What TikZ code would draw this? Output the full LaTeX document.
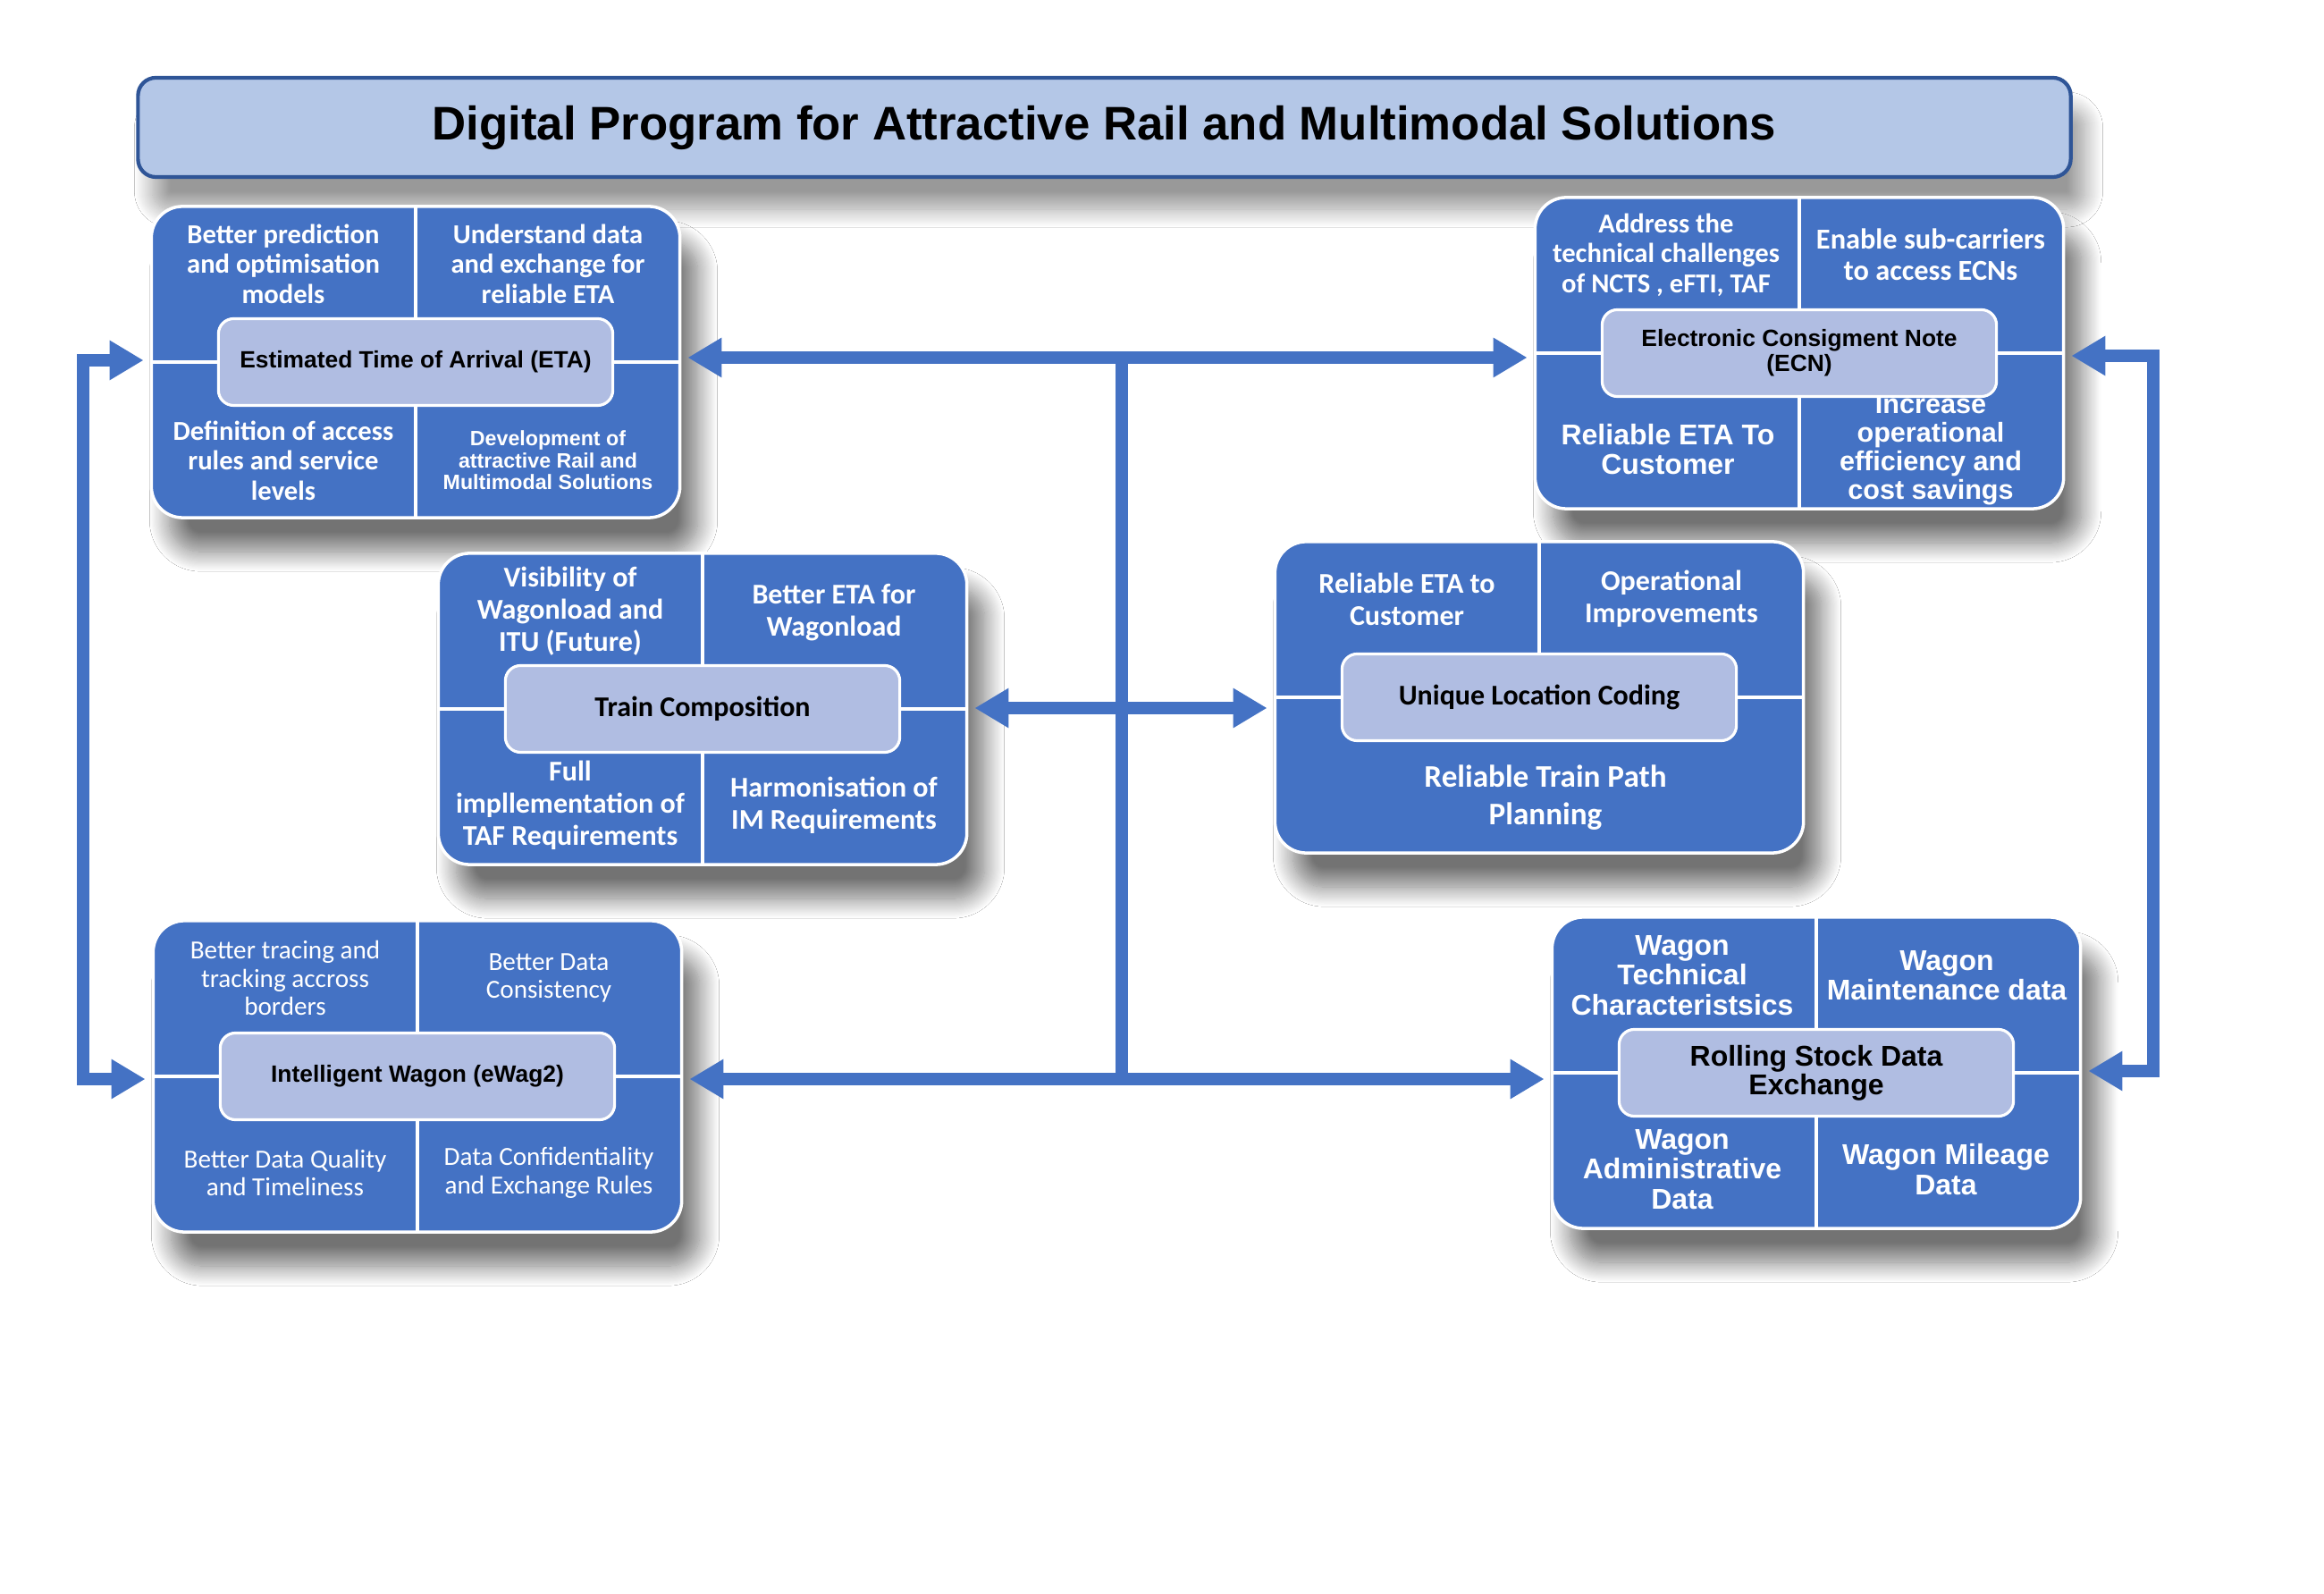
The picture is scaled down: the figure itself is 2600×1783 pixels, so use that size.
\documentclass[tikz,border=0pt]{standalone}
\usepackage{fontspec}
\newfontfamily\calibrifont{Carlito}
\newfontfamily\arialfont{Liberation Sans}
\usetikzlibrary{arrows.meta,shadows.blur}
\definecolor{boxblue}{RGB}{68,114,196}
\definecolor{coreblue}{RGB}{176,189,226}
\definecolor{titleblue}{RGB}{180,199,231}
\definecolor{titleedge}{RGB}{47,85,151}
\definecolor{linkblue}{RGB}{68,114,196}
\newcommand{\calbold}[2]{\calibrifont\bfseries\fontsize{#1}{#2}\selectfont}
\newcommand{\calreg}[2]{\calibrifont\fontsize{#1}{#2}\selectfont}
\newcommand{\arbold}[2]{\arialfont\bfseries\fontsize{#1}{#2}\selectfont}
\tikzset{
  titlebar/.style={draw=titleedge, line width=1.2pt, fill=titleblue, rounded corners=0.2cm,
    minimum width=21.61cm, minimum height=1.11cm, inner sep=0pt,
    font=\arbold{15}{18},
    blur shadow={shadow xshift=0.16cm, shadow yshift=-0.36cm, shadow blur radius=0.2cm, shadow blur steps=20, shadow opacity=40}},
  block/.style={draw=white, line width=1pt, fill=boxblue, rounded corners=0.35cm,
    minimum width=5.91cm, minimum height=3.48cm, inner sep=0pt,
    blur shadow={shadow xshift=0.2cm, shadow yshift=-0.38cm, shadow blur radius=0.22cm, shadow blur steps=20, shadow opacity=55}},
  core/.style={draw=white, line width=0.9pt, fill=coreblue, rounded corners=0.17cm,
    minimum width=4.41cm, minimum height=0.97cm, inner sep=0pt, align=center, text=black},
  divider/.style={draw=white, line width=1pt},
  cell/.style={text=white, align=center, inner sep=0pt},
  link/.style={draw=linkblue, line width=0.14cm, line join=miter},
  twoway/.style={{Triangle[length=0.38cm,width=0.42cm]}-{Triangle[length=0.38cm,width=0.42cm]},
    shorten <=0.07cm, shorten >=0.07cm}
}
\begin{document}
\begin{tikzpicture}[x=0.01cm,y=-0.01cm]
	\fill[white] (0,0) rectangle (2600,1783);
	\useasboundingbox (0,0) rectangle (2600,1783);
	\node[titlebar] (title) at (1235.5,142.5) {Digital Program for Attractive Rail and Multimodal Solutions};
	% ETA
	\node[block] (eta) at (465,405) {};
	\draw[divider] (eta.north) -- (eta.south);
	\draw[divider] (eta.west) -- (eta.east);
	\node[cell, font=\calbold{8.7}{9.5}] (eta-tl) at (317,295) {Better prediction\\and optimisation\\models};
	\node[cell, font=\calbold{8.7}{9.5}] (eta-tr) at (613,295) {Understand data\\and exchange for\\reliable ETA};
	\node[cell, font=\calbold{8.7}{9.5}] (eta-bl) at (317,515) {Definition of access\\rules and service\\levels};
	\node[cell, font=\arbold{6.6}{7}] (eta-br) at (613,515) {Development of\\attractive Rail and\\Multimodal Solutions};
	\node[core, font=\arbold{7.5}{7.9}] (eta-core) at (eta) {Estimated Time of Arrival (ETA)};
	% ECN
	\node[block] (ecn) at (2013,395) {};
	\draw[divider] (ecn.north) -- (ecn.south);
	\draw[divider] (ecn.west) -- (ecn.east);
	\node[cell, font=\calbold{8.7}{9.5}] (ecn-tl) at (1864,285) {Address the\\technical challenges\\of NCTS , eFTI, TAF};
	\node[cell, font=\calbold{9.2}{10.1}] (ecn-tr) at (2160,285) {Enable sub-carriers\\to access ECNs};
	\node[cell, font=\arbold{9.1}{9.4}] (ecn-bl) at (1866,503) {Reliable ETA To\\Customer};
	\node[cell, font=\arbold{8.7}{9.1}] (ecn-br) at (2160,503) {Increase\\operational\\efficiency and\\cost savings};
	\node[core, font=\arbold{7.5}{7.9}] (ecn-core) at (ecn) {Electronic Consigment Note\\(ECN)};
	% Train composition
	\node[block] (tc) at (786,793) {};
	\draw[divider] (tc.north) -- (tc.south);
	\draw[divider] (tc.west) -- (tc.east);
	\node[cell, font=\calbold{9.1}{10.2}] (tc-tl) at (638,684) {Visibility of\\Wagonload and\\ITU (Future)};
	\node[cell, font=\calbold{9.1}{10.2}] (tc-tr) at (933,685) {Better ETA for\\Wagonload};
	\node[cell, font=\calbold{9.1}{10.2}] (tc-bl) at (638,901) {Full\\impllementation of\\TAF Requirements};
	\node[cell, font=\calbold{9.1}{10.2}] (tc-br) at (933,901) {Harmonisation of\\IM Requirements};
	\node[core, font=\calbold{9.1}{10.2}] (tc-core) at (tc) {Train Composition};
	% Location coding
	\node[block] (ulc) at (1722,780) {};
	\draw[divider] (ulc.north) -- (ulc.center);
	\draw[divider] (ulc.west) -- (ulc.east);
	\node[cell, font=\calbold{9.1}{10.2}] (ulc-tl) at (1574,670) {Reliable ETA to\\Customer};
	\node[cell, font=\calbold{9.1}{10.2}] (ulc-tr) at (1870,670) {Operational\\Improvements};
	\node[cell, font=\calbold{10}{11.8}] (ulc-b) at (1729,892) {Reliable Train Path\\Planning};
	\node[core, font=\calbold{9.1}{10.2}] (ulc-core) at (ulc) {Unique Location Coding};
	% Intelligent wagon
	\node[block] (iw) at (467,1204) {};
	\draw[divider] (iw.north) -- (iw.south);
	\draw[divider] (iw.west) -- (iw.east);
	\node[cell, font=\calreg{8.3}{9}] (iw-tl) at (319,1094) {Better tracing and\\tracking accross\\borders};
	\node[cell, font=\calreg{8.3}{9}] (iw-tr) at (614,1094) {Better Data\\Consistency};
	\node[cell, font=\calreg{8.3}{9}] (iw-bl) at (319,1312) {Better Data Quality\\and Timeliness};
	\node[cell, font=\calreg{8.3}{9}] (iw-br) at (614,1312) {Data Confidentiality\\and Exchange Rules};
	\node[core, font=\arbold{7.5}{7.9}] (iw-core) at (iw) {Intelligent Wagon (eWag2)};
	% Rolling stock
	\node[block] (rs) at (2032,1200) {};
	\draw[divider] (rs.north) -- (rs.south);
	\draw[divider] (rs.west) -- (rs.east);
	\node[cell, font=\arbold{9.1}{9.5}] (rs-tl) at (1882,1091) {Wagon\\Technical\\Characteristsics};
	\node[cell, font=\arbold{9.1}{9.5}] (rs-tr) at (2178,1091) {Wagon\\Maintenance data};
	\node[cell, font=\arbold{9.1}{9.5}] (rs-bl) at (1882,1308) {Wagon\\Administrative\\Data};
	\node[cell, font=\arbold{9.1}{9.5}] (rs-br) at (2177,1308) {Wagon Mileage\\Data};
	\node[core, font=\arbold{9.1}{9}] (rs-core) at (rs) {Rolling Stock Data\\Exchange};
	% connectors
	\coordinate (top) at (1255,400);
	\coordinate (mid) at (1255,792);
	\coordinate (bot) at (1255,1207);
	\coordinate (lt) at (93,403);
	\coordinate (lb) at (93,1207);
	\coordinate (rt) at (2409,398);
	\coordinate (rb) at (2409,1198);
	\draw[link] (top) -- (bot);
	\draw[link, twoway] (eta.east |- top) -- (ecn.west |- top);
	\draw[link, twoway] (tc.east |- mid) -- (ulc.west |- mid);
	\draw[link, twoway] (iw.east |- bot) -- (rs.west |- bot);
	\draw[link, twoway] (eta.west |- lt) -- (lt) -- (lb) -- (iw.west |- lb);
	\draw[link, twoway] (ecn.east |- rt) -- (rt) -- (rb) -- (rs.east |- rb);
\end{tikzpicture}
\end{document}
